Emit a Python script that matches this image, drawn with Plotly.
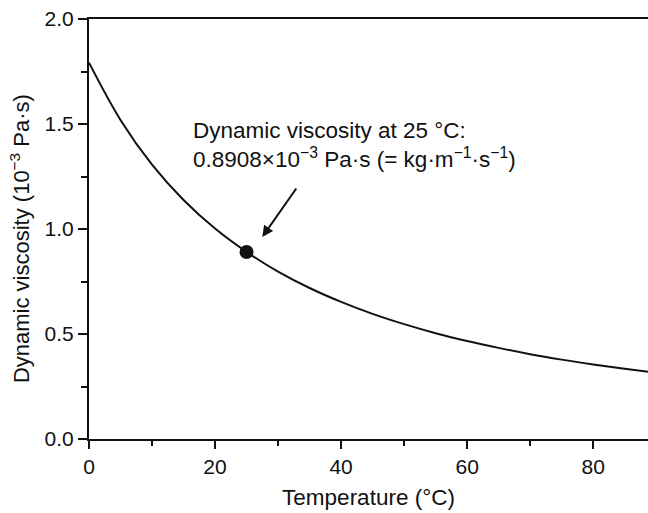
import plotly.graph_objects as go

# Water dynamic viscosity (10^-3 Pa·s) vs temperature (°C)
temperature = [0, 5, 10, 15, 20, 25, 30, 35, 40, 45, 50, 55, 60, 65, 70, 75, 80, 85, 90]
viscosity = [1.792, 1.519, 1.306, 1.138, 1.002, 0.8908, 0.797, 0.719, 0.653, 0.596,
             0.547, 0.504, 0.467, 0.434, 0.404, 0.378, 0.355, 0.334, 0.315]
point_t = [25]
point_v = [0.8908]

x_title = "Temperature (°C)"
y_title = "Dynamic viscosity (10<sup>−3</sup> Pa·s)"
note = "Dynamic viscosity at 25 °C:<br>0.8908×10<sup>−3</sup> Pa·s (= kg·m<sup>−1</sup>·s<sup>−1</sup>)"

FONT = "Liberation Sans, Arial, sans-serif"
INK = "#111111"

fig = go.Figure()
fig.add_trace(go.Scatter(x=temperature, y=viscosity, mode="lines",
                         line=dict(color=INK, width=2, shape="spline"),
                         showlegend=False, hoverinfo="skip"))
fig.add_trace(go.Scatter(x=point_t, y=point_v, mode="markers",
                         marker=dict(color=INK, size=14),
                         showlegend=False, cliponaxis=False))

fig.add_annotation(x=27.5, y=0.962, ax=35, ay=-50, xref="x", yref="y",
                   text="", showarrow=True, arrowhead=2, arrowsize=1.1,
                   arrowwidth=2, arrowcolor=INK)
fig.add_annotation(x=16.2, y=1.54, xref="x", yref="y", xanchor="left", yanchor="top",
                   align="left", showarrow=False, text=note,
                   font=dict(family=FONT, size=22.5, color=INK))
fig.add_annotation(x=-0.1234, y=0.476, xref="paper", yref="paper",
                   xanchor="center", yanchor="middle", textangle=-90,
                   showarrow=False, text=y_title,
                   font=dict(family=FONT, size=22, color=INK))

fig.update_layout(
    width=648, height=513,
    margin=dict(l=89, r=0, t=19, b=74),
    paper_bgcolor="white", plot_bgcolor="white",
    font=dict(family=FONT, size=21, color=INK),
)
fig.update_xaxes(range=[0, 88.7], tickvals=[0, 20, 40, 60, 80],
                 ticks="outside", ticklen=8, tickwidth=2, tickcolor=INK,
                 showline=True, linewidth=2, linecolor=INK, mirror=True,
                 showgrid=False, zeroline=False,
                 minor=dict(tickvals=[10, 30, 50, 70], ticks="outside", ticklen=5, tickwidth=2, tickcolor=INK, showgrid=False),
                 title=dict(text=x_title, font=dict(size=22.5), standoff=12),
                 tickfont=dict(size=21))
fig.update_yaxes(range=[0, 2.0], tickvals=[0, 0.5, 1.0, 1.5, 2.0], tickformat=".1f",
                 ticks="outside", ticklen=9, tickwidth=2, tickcolor=INK,
                 showline=True, linewidth=2, linecolor=INK,
                 showgrid=False, zeroline=False,
                 minor=dict(tickvals=[0.25, 0.75, 1.25, 1.75], ticks="outside", ticklen=6, tickwidth=2, tickcolor=INK, showgrid=False),
                 tickfont=dict(size=21))

fig.write_html("out.html")
